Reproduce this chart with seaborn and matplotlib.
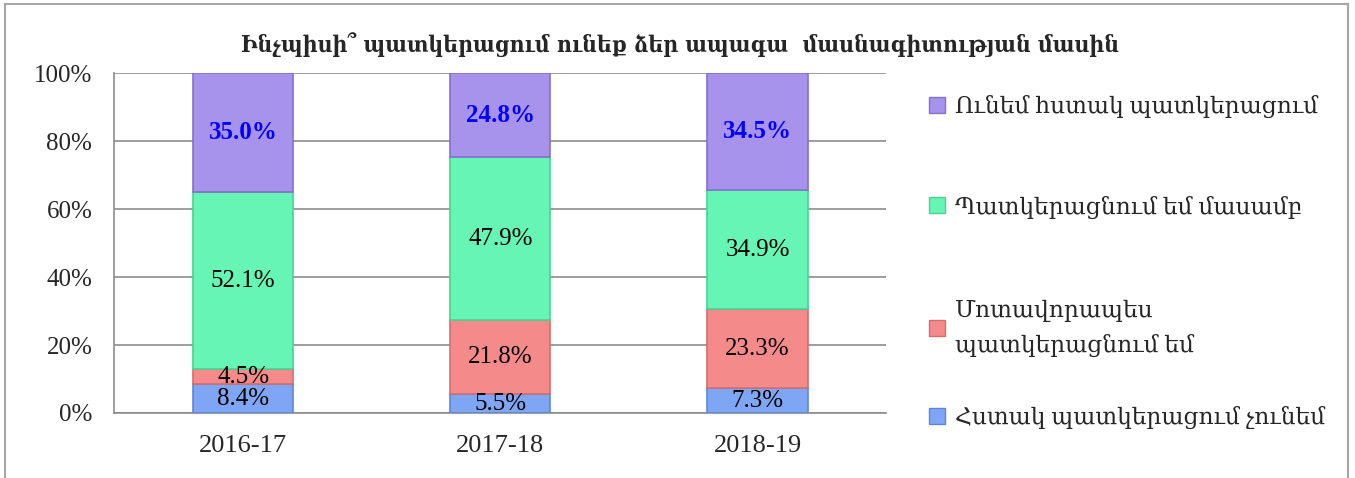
import numpy as np
import matplotlib.pyplot as plt
import matplotlib.patches as mpatches
import seaborn as sns

# Տվյալներ (%)
years = ['2016-17', '2017-18', '2018-19']
no_idea = [8.4, 5.5, 7.3]
approx = [4.5, 21.8, 23.3]
partly = [52.1, 47.9, 34.9]
clear = [35.0, 24.8, 34.5]

series_names = ['Հստակ պատկերացում չունեմ',
                'Մոտավորապես\nպատկերացնում եմ',
                'Պատկերացնում եմ մասամբ',
                'Ունեմ հստակ պատկերացում']
series_vals = [no_idea, approx, partly, clear]
colors = ['#7FA6F5', '#F58A8A', '#66F5B4', '#A893EC']
edges = ['#5F86D6', '#D86C6C', '#48D392', '#8570CC']
label_colors = ['black', 'black', 'black', '#0000FF']
label_weights = ['normal', 'normal', 'normal', 'bold']

title = 'Ինչպիսի՞ պատկերացում ունեք ձեր ապագա  մասնագիտության մասին'

sns.set_style('white')
plt.rcParams['font.family'] = ['Liberation Serif', 'DejaVu Serif']

fig = plt.figure(figsize=(13.55, 4.78), dpi=100)
ax = fig.add_axes([0.0845, 0.136, 0.5695, 0.711])

bottom = np.zeros(len(years))
for vals, c, ec in zip(series_vals, colors, edges):
    sns.barplot(x=years, y=vals, color=c, bottom=bottom, width=0.39,
                edgecolor=ec, linewidth=1.2, saturation=1, errorbar=None,
                ax=ax, zorder=3)
    bottom += np.array(vals)

# Արժեքների պիտակներ
for cont, vals, lc, lw in zip(ax.containers, series_vals, label_colors, label_weights):
    ax.bar_label(cont, labels=[f'{v:.1f}%' for v in vals], label_type='center',
                 fontsize=18, color=lc, fontweight=lw)

# Առանցքներ
ax.set_xlim(-0.5, 2.5)
ax.set_ylim(0, 100)
ax.set_yticks(range(0, 101, 20))
ax.set_yticklabels([f'{v}%' for v in range(0, 101, 20)])
ax.set_xticks([-0.5, 0.5, 1.5, 2.5], minor=True)
ax.tick_params(axis='x', which='major', length=0, pad=16, labelsize=19)
ax.tick_params(axis='x', which='minor', length=7, width=1.2, color='#8c8c8c', direction='out')
ax.tick_params(axis='y', length=7, width=1.2, color='#8c8c8c', direction='out', pad=9, labelsize=18)
ax.yaxis.grid(True, color='#8c8c8c', linewidth=1.2, zorder=0)
ax.set_axisbelow(True)
for s in ['top', 'right']:
    ax.spines[s].set_visible(False)
for s in ['left', 'bottom']:
    ax.spines[s].set_color('#8c8c8c')
    ax.spines[s].set_linewidth(1.2)
ax.set_xlabel('')
ax.set_ylabel('')

# Լեգենդ (երկու մասով՝ տողերի միջակայքերը համապատասխանեցնելու համար)
handles = [mpatches.Patch(facecolor=c, edgecolor=ec, label=n)
           for n, c, ec in zip(series_names, colors, edges)][::-1]
leg_kw = dict(loc='upper left', frameon=False, fontsize=16.8, handlelength=0.7,
              handleheight=0.7, handletextpad=0.4, borderpad=0)
fig.legend(handles=handles[:2], bbox_to_anchor=(0.677, 0.825), labelspacing=3.3, **leg_kw)
leg2 = fig.legend(handles=handles[2:], bbox_to_anchor=(0.677, 0.398), labelspacing=2.1, **leg_kw)
leg2.get_texts()[0].set_linespacing(1.7)

fig.text(0.502, 0.906, title, ha='center', va='center', fontsize=16.5,
         fontweight='bold', fontstretch='condensed', family=['DejaVu Serif'])

# Շրջանակ
fig.patches.append(mpatches.Rectangle((5 / 1355, -0.05), 1343 / 1355, 1.05 - 4 / 478,
                                      transform=fig.transFigure, fill=False,
                                      edgecolor='#a6a6a6', linewidth=1.5))

plt.savefig('out.png', dpi=100)
